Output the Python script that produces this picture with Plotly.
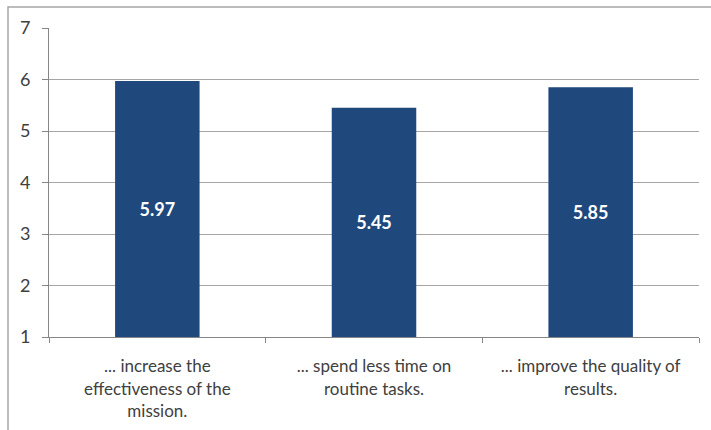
import plotly.graph_objects as go

categories = ["... increase the<br>effectiveness of the<br>mission.",
              "... spend less time on<br>routine tasks.",
              "... improve the quality of<br>results."]
values = [5.97, 5.45, 5.85]
baseline = 1
y_ticks = [1, 2, 3, 4, 5, 6, 7]

fig = go.Figure(go.Bar(
    x=categories, y=[v - baseline for v in values], base=baseline,
    marker=dict(color="#1F497D", line=dict(width=0)),
    text=[f"{v:.2f}" for v in values],
    textposition="inside", insidetextanchor="middle",
    textfont=dict(color="white", size=18, family="Lato"),
    texttemplate="<b>%{text}</b>",
    hovertemplate="%{x}: %{text}<extra></extra>",
    width=0.39,
))

fig.update_layout(
    width=711, height=430,
    margin=dict(l=49, r=12, t=28, b=93),
    paper_bgcolor="white", plot_bgcolor="white",
    showlegend=False,
    font=dict(family="Lato", size=17, color="#404040"),
    xaxis=dict(
        showline=True, linecolor="#868686", linewidth=1,
        ticks="outside", tickson="boundaries", ticklen=5, tickcolor="#868686",
        showgrid=False, tickfont=dict(size=17, color="#404040"),
        ticklabelstandoff=14, automargin=False,
    ),
    yaxis=dict(
        range=[1, 7], tickvals=y_ticks,
        showline=True, linecolor="#868686", linewidth=1,
        ticks="outside", ticklen=6, tickcolor="#868686",
        showgrid=True, gridcolor="#A6A6A6", gridwidth=1,
        tickfont=dict(size=18, color="#404040"),
        ticklabelstandoff=8, automargin=False,
        zeroline=False,
    ),
    shapes=[dict(type="rect", xref="paper", yref="paper",
                 x0=(8 - 49) / 650, x1=1.2, y0=-0.5, y1=1 + (28 - 7) / 309,
                 line=dict(color="#A6A6A6", width=1.5), layer="below")],
)
fig.write_html("out.html")
